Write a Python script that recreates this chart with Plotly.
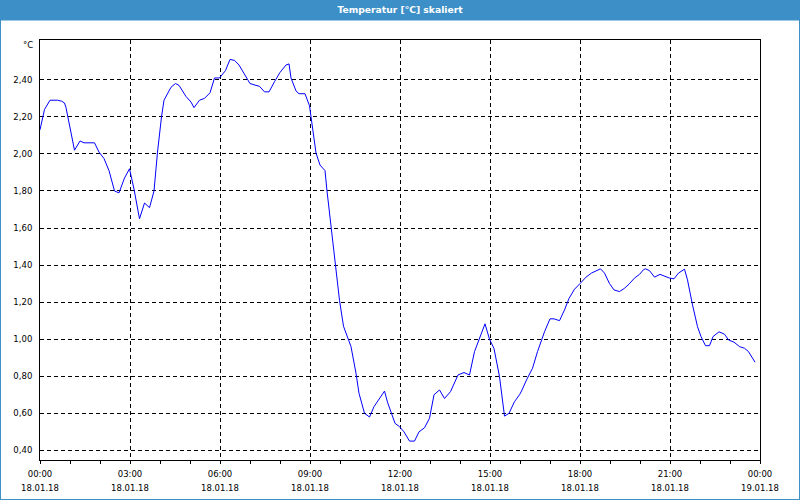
import plotly.graph_objects as go

# ---- data ----
times = [
    "00:00", "00:09", "00:20", "00:35", "00:43", "00:49", "00:52", "01:09", "01:20", "01:28",
    "01:49", "01:58", "02:08", "02:18", "02:29", "02:38", "02:49", "02:59", "03:08", "03:19",
    "03:29", "03:39", "03:48", "03:55", "04:03", "04:08", "04:22", "04:31", "04:38", "04:52",
    "05:02", "05:08", "05:19", "05:29", "05:40", "05:49", "05:59", "06:11", "06:20", "06:29",
    "06:38", "06:49", "07:00", "07:12", "07:19", "07:29", "07:38", "07:49", "08:00", "08:12",
    "08:18", "08:22", "08:32", "08:38", "08:50", "08:59", "09:05", "09:12", "09:20", "09:30",
    "09:34", "09:42", "09:52", "09:59", "10:07", "10:15", "10:22", "10:32", "10:38", "10:49",
    "10:59", "11:08", "11:19", "11:29", "11:35", "11:43", "11:50", "11:59", "12:08", "12:19",
    "12:29", "12:38", "12:49", "12:59", "13:08", "13:19", "13:29", "13:41", "13:56", "14:08",
    "14:19", "14:29", "14:41", "14:50", "14:59", "15:08", "15:19", "15:29", "15:38", "15:49",
    "15:59", "16:03", "16:13", "16:25", "16:35", "16:49", "17:00", "17:08", "17:19", "17:29",
    "17:38", "17:49", "18:00", "18:12", "18:23", "18:32", "18:41", "18:49", "18:59", "19:08",
    "19:19", "19:29", "19:38", "19:49", "19:59", "20:07", "20:11", "20:19", "20:29", "20:40",
    "20:49", "20:59", "21:08", "21:17", "21:29", "21:35", "21:45", "21:55", "22:02", "22:11",
    "22:19", "22:26", "22:38", "22:49", "22:57", "23:08", "23:19", "23:29", "23:37", "23:44",
    "23:50",
]
temps = [
    2.13, 2.24, 2.29, 2.29, 2.285, 2.275, 2.25, 2.02, 2.07, 2.06,
    2.06, 2.01, 1.975, 1.91, 1.80, 1.79, 1.87, 1.92, 1.81, 1.65,
    1.735, 1.71, 1.80, 2.01, 2.20, 2.29, 2.36, 2.38, 2.37, 2.31,
    2.28, 2.25, 2.29, 2.30, 2.33, 2.41, 2.41, 2.45, 2.51, 2.505,
    2.48, 2.43, 2.38, 2.37, 2.365, 2.335, 2.335, 2.39, 2.44, 2.48,
    2.486, 2.41, 2.34, 2.325, 2.325, 2.26, 2.15, 2.005, 1.94, 1.91,
    1.80, 1.61, 1.39, 1.21, 1.07, 1.005, 0.96, 0.816, 0.708, 0.60,
    0.58, 0.636, 0.68, 0.72, 0.66, 0.60, 0.546, 0.528, 0.50, 0.45,
    0.45, 0.50, 0.522, 0.573, 0.70, 0.726, 0.68, 0.717, 0.807, 0.82,
    0.807, 0.933, 1.014, 1.083, 1.00, 0.95, 0.798, 0.585, 0.60, 0.663,
    0.70, 0.72, 0.78, 0.843, 0.933, 1.04, 1.11, 1.11, 1.10, 1.158,
    1.22, 1.27, 1.30, 1.335, 1.357, 1.37, 1.38, 1.357, 1.30, 1.266,
    1.257, 1.275, 1.297, 1.33, 1.35, 1.375, 1.38, 1.37, 1.335, 1.35,
    1.34, 1.33, 1.326, 1.357, 1.378, 1.32, 1.185, 1.068, 1.014, 0.965,
    0.965, 1.014, 1.04, 1.027, 0.996, 0.984, 0.96, 0.951, 0.933, 0.906,
    0.876,
]
day = "2018-01-18"
x_start = "2018-01-18 00:00"
x_end = "2018-01-19 00:00"
y_range = [0.348, 2.615]
y_ticks = [0.4, 0.6, 0.8, 1.0, 1.2, 1.4, 1.6, 1.8, 2.0, 2.2, 2.4]
title_text = "Temperatur [°C] skaliert"
unit_text = "°C"

x_vals = [f"{day} {t}" for t in times]

BLUE_BAR = "#3d8fc7"
FONT = "DejaVu Sans"
W, H = 800, 500
L, R, T, B = 40, 40, 40, 40
pw, ph = W - L - R, H - T - B

def px_x(p):
    return (p - L) / pw

def px_y(p):
    return (H - B - p) / ph

fig = go.Figure()
fig.add_trace(go.Scatter(
    x=x_vals, y=temps, mode="lines",
    line=dict(color="#0000ff", width=1),
    hoverinfo="skip", showlegend=False,
))
# invisible copy on the second (date-label) axis
fig.add_trace(go.Scatter(
    x=x_vals, y=temps, mode="lines", xaxis="x2",
    line=dict(color="rgba(0,0,0,0)", width=0),
    hoverinfo="skip", showlegend=False,
))

HOUR = 3600000
fig.update_layout(
    template="none",
    width=W, height=H,
    margin=dict(l=L, r=R, t=T, b=B, autoexpand=False),
    paper_bgcolor="white", plot_bgcolor="white",
    separators=",.",
    font=dict(family=FONT, size=8.5, color="black"),
    title=dict(text=title_text, x=0.5, xanchor="center", y=1 - 10 / H, yanchor="middle",
               font=dict(family=FONT, size=9.2, color="white", weight="bold")),
    xaxis=dict(
        type="date", range=[x_start, x_end], automargin=False,
        tick0=x_start, dtick=3 * HOUR, tickformat="%H:%M",
        showgrid=True, gridcolor="black", gridwidth=1, griddash="4px,3px",
        showline=True, linecolor="black", linewidth=1, mirror=True,
        ticks="outside", ticklen=3, tickcolor="black", tickwidth=1,
        minor=dict(dtick=HOUR, ticks="outside", ticklen=3, tickcolor="black", showgrid=False),
        ticklabelstandoff=3, zeroline=False,
    ),
    xaxis2=dict(
        type="date", range=[x_start, x_end], overlaying="x", side="bottom", anchor="y",
        automargin=False,
        tick0=x_start, dtick=3 * HOUR, tickformat="%d.%m.%y",
        showgrid=False, showline=False, ticks="", ticklabelstandoff=21, zeroline=False,
    ),
    yaxis=dict(
        range=y_range, tickmode="array", tickvals=y_ticks, tickformat=".2f", automargin=False,
        showgrid=True, gridcolor="black", gridwidth=1, griddash="4px,3px",
        showline=True, linecolor="black", linewidth=1, mirror=True,
        ticks="", ticklabelstandoff=5, zeroline=False,
    ),
    shapes=[
        dict(type="rect", xref="paper", yref="paper", layer="below",
             x0=px_x(0), x1=px_x(W), y0=px_y(20.5), y1=px_y(0),
             fillcolor=BLUE_BAR, line=dict(width=0)),
        dict(type="rect", xref="paper", yref="paper", layer="above",
             x0=px_x(0), x1=px_x(W), y0=px_y(H), y1=px_y(0),
             fillcolor="rgba(0,0,0,0)", line=dict(color=BLUE_BAR, width=2)),
    ],
    annotations=[
        dict(text=unit_text, xref="paper", yref="paper", x=px_x(35), y=px_y(45),
             xanchor="right", yanchor="middle", showarrow=False,
             font=dict(family=FONT, size=8.5, color="black")),
    ],
)

fig.write_html("out.html")
